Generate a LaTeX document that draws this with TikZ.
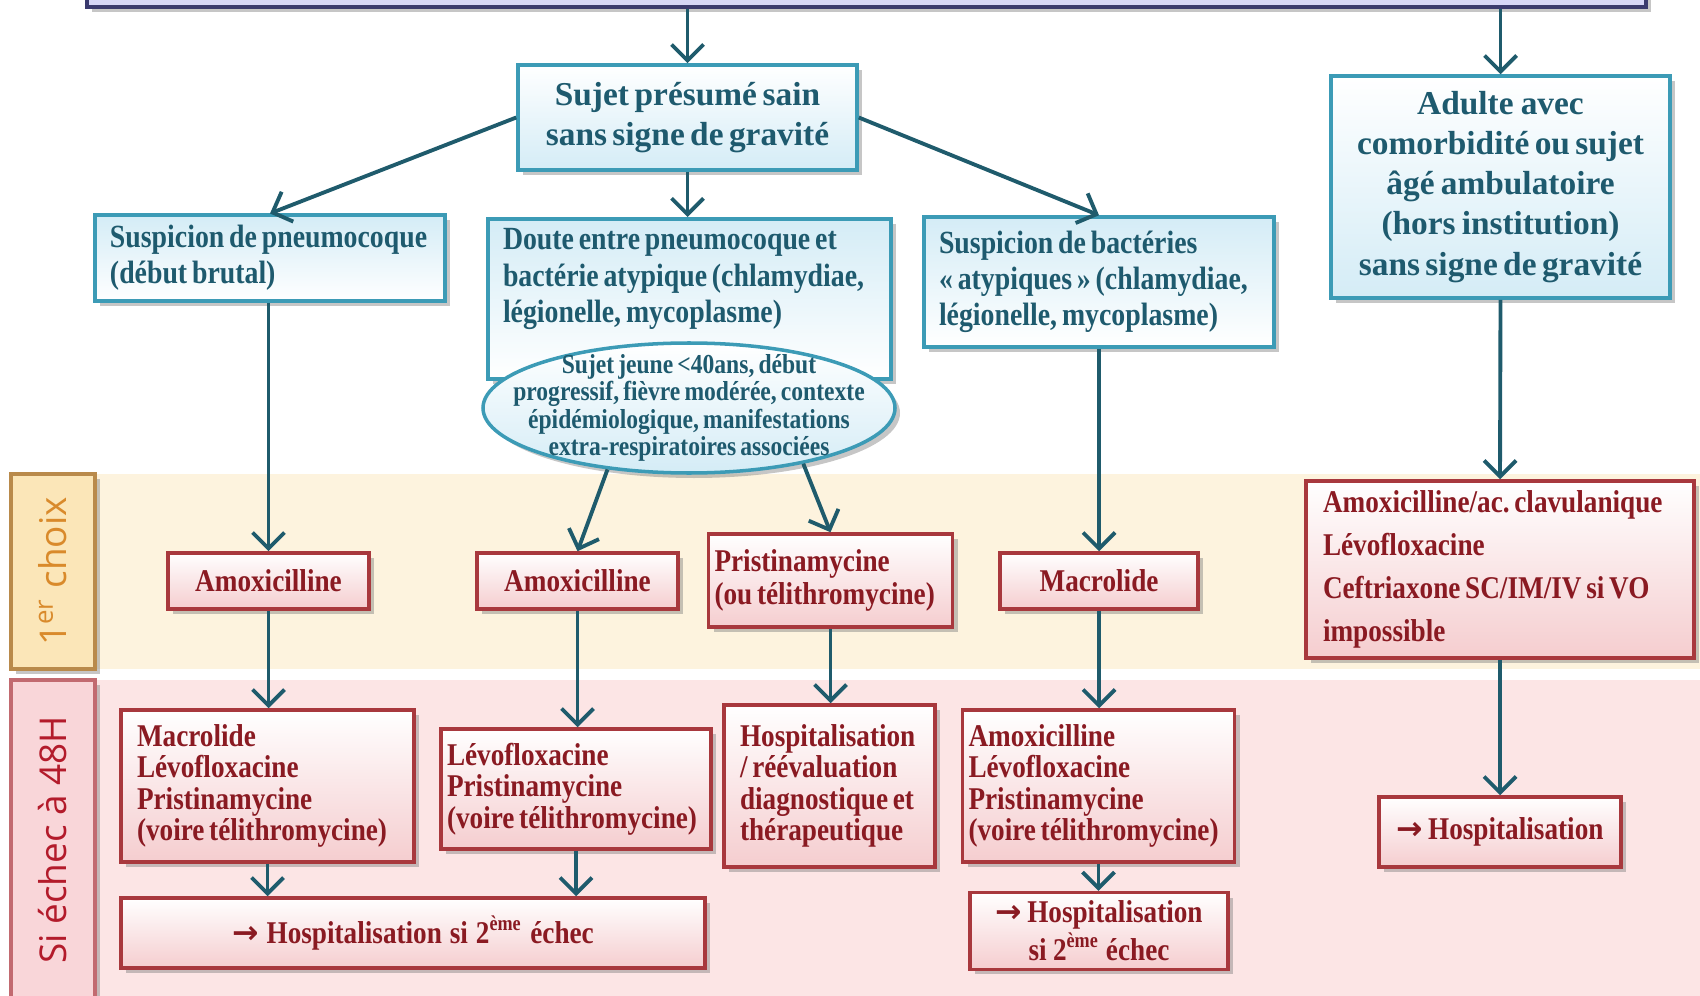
\documentclass[tikz,border=0pt]{standalone}
\usepackage{fontspec}
\usepackage{xcolor}
\usepackage{tikz}
\usetikzlibrary{arrows.meta,shapes.geometric,shadows}

\setmainfont{Liberation Serif}[FakeStretch=0.86]
\newfontfamily\largo{Liberation Serif}
\newfontfamily\fasciafont{Open Sans}
\newfontfamily\frecciafont{DejaVu Sans}
\newcommand{\fr}{{\frecciafont\bfseries →}}
\newcommand{\spaziatura}{\spaceskip=0.15em plus 0.06em minus 0.03em\xspaceskip=\spaceskip}

\begin{document}
\begin{tikzpicture}[
  ombra/.style={drop shadow={opacity=0.45,shadow xshift=0.05cm,shadow yshift=-0.05cm}},
  blu/.style={draw=bordoBlu, line width=1pt, top color=fondoBlu, bottom color=white,
    text=testoBlu, inner xsep=0.15cm, inner ysep=0.1cm, ombra,
    font=\fontsize{9.2}{10.3}\selectfont\bfseries, execute at begin node=\spaziatura},
  capo/.style={blu, top color=white, bottom color=fondoBlu, align=center,
    font=\largo\fontsize{9.5}{11.4}\selectfont\bfseries},
  rosso/.style={draw=bordoRosso, line width=1pt, top color=white, bottom color=fondoRosso,
    text=testoRosso, inner xsep=0.06cm, inner ysep=0.08cm, ombra,
    font=\fontsize{9}{8.9}\selectfont\bfseries, execute at begin node=\spaziatura},
  fascia/.style={rotate=90, line width=1pt, ombra, inner sep=0pt,
    font=\fasciafont\fontsize{10.5}{13}\selectfont},
  freccia/.style={-{Straight Barb[length=1.6mm,width=3.2mm]}, line width=1.1pt, draw=coloreFreccia}
]

% Colori
\definecolor{bordoBlu}{HTML}{3C9BB6}
\definecolor{testoBlu}{HTML}{1E5A6E}
\definecolor{fondoBlu}{HTML}{D4ECF6}
\definecolor{coloreFreccia}{HTML}{1F5B6C}
\definecolor{bordoRosso}{HTML}{A8383D}
\definecolor{testoRosso}{HTML}{8A1A22}
\definecolor{fondoRosso}{HTML}{F5CDCF}
\definecolor{fasciaGialla}{HTML}{FDF3DE}
\definecolor{fasciaRosa}{HTML}{FCE5E5}
\definecolor{bordoGiallo}{HTML}{B98A4B}
\definecolor{fondoGiallo}{HTML}{FBE6B8}
\definecolor{testoGiallo}{HTML}{D98A2B}
\definecolor{bordoRosa}{HTML}{C26A70}
\definecolor{fondoRosa}{HTML}{F9D6D9}
\definecolor{testoRosa}{HTML}{B31B2B}
\definecolor{bordoTitolo}{HTML}{3A3A6E}
\definecolor{fondoTitolo}{HTML}{D6D6F7}

\useasboundingbox (0,0) rectangle (17,-9.96);
\clip (0,0) rectangle (17,-9.96);

% Fasce
\fill[fasciaGialla] (0.95,-4.74) rectangle (17,-6.69);
\fill[fasciaRosa] (0.95,-6.80) rectangle (17,-9.96);
\node[fascia, draw=bordoGiallo, fill=fondoGiallo, text=testoGiallo,
  minimum width=1.95cm, minimum height=0.84cm] (scelta) at (0.53,-5.715) {1\textsuperscript{er} choix};
\node[fascia, draw=bordoRosa, fill=fondoRosa, text=testoRosa,
  minimum width=3.2cm, minimum height=0.84cm] (echec) at (0.53,-8.40) {Si échec à 48H};

% Titolo (tagliato)
\node[draw=bordoTitolo, fill=fondoTitolo, line width=1.2pt, ombra,
  minimum width=15.59cm, minimum height=1cm, anchor=south] (titolo) at (8.665,-0.09) {};

% Situazioni
\node[capo, text width=3.09cm, minimum height=1.05cm] (sujet) at (6.875,-1.175)
  {Sujet présumé sain\\sans signe de gravité};
\node[capo, text width=3.09cm, minimum height=2.22cm] (adulte) at (15.005,-1.87)
  {Adulte avec\\comorbidité ou sujet\\âgé ambulatoire\\(hors institution)\\sans signe de gravité};
\node[blu, align=left, text width=3.20cm, minimum height=0.82cm] (pneumo) at (2.70,-2.58)
  {Suspicion de pneumocoque\\(début brutal)};
\node[blu, align=left, text width=3.73cm, text depth=1.19cm, anchor=north] (doute) at (6.895,-2.17)
  {Doute entre pneumocoque et\\bactérie atypique (chlamydiae,\\légionelle, mycoplasme)};
\node[blu, align=left, text width=3.20cm, minimum height=1.30cm] (bact) at (10.99,-2.82)
  {Suspicion de bactéries\\«~atypiques~» (chlamydiae,\\légionelle, mycoplasme)};
\node[ellipse, draw=bordoBlu, line width=1pt, top color=white, bottom color=fondoBlu, ombra,
  minimum width=4.12cm, minimum height=1.30cm] (ell) at (6.89,-4.08) {};
\node[text=testoBlu, align=center, inner sep=0pt, font=\fontsize{7.8}{7.8}\selectfont\bfseries,
  execute at begin node=\spaziatura]
  (ellTesto) at (ell) {Sujet jeune <40ans, début\\progressif, fièvre modérée, contexte\\épidémiologique, manifestations\\extra-respiratoires associées};

% 1er choix
\node[rosso, align=center, text width=1.89cm, minimum height=0.56cm] (amox1) at (2.685,-5.81) {Amoxicilline};
\node[rosso, align=center, text width=1.89cm, minimum height=0.56cm] (amox2) at (5.775,-5.81) {Amoxicilline};
\node[rosso, align=left, text width=2.32cm, minimum height=0.93cm, font=\fontsize{9}{9.2}\selectfont\bfseries]
  (pristi) at (8.305,-5.805) {Pristinamycine\\(ou télithromycine)};
\node[rosso, align=center, text width=1.86cm, minimum height=0.56cm] (macro) at (10.99,-5.81) {Macrolide};
\node[rosso, align=left, inner xsep=0.17cm, text width=3.54cm, minimum height=1.77cm,
  font=\fontsize{9}{12.3}\selectfont\bfseries]
  (amoxclav) at (15.0,-5.695) {Amoxicilline/ac. clavulanique\\Lévofloxacine\\Ceftriaxone SC/IM/IV si VO\\impossible};

% Si echec a 48H
\node[rosso, align=left, inner xsep=0.16cm, text width=2.61cm, minimum height=1.52cm] (echec1) at (2.675,-7.86)
  {Macrolide\\Lévofloxacine\\Pristinamycine\\(voire télithromycine)};
\node[rosso, align=left, text width=2.58cm, minimum height=1.20cm] (echec2) at (5.76,-7.89)
  {Lévofloxacine\\Pristinamycine\\(voire télithromycine)};
\node[rosso, align=left, inner xsep=0.16cm, text width=1.79cm, minimum height=1.62cm] (echec3) at (8.295,-7.86)
  {Hospitalisation\\/ réévaluation\\diagnostique et\\thérapeutique};
\node[rosso, align=left, text width=2.6cm, minimum height=1.52cm] (echec4) at (10.985,-7.86)
  {Amoxicilline\\Lévofloxacine\\Pristinamycine\\(voire télithromycine)};
\node[rosso, align=center, text width=2.30cm, minimum height=0.70cm] (hospit) at (15.0,-8.32)
  {\fr{} Hospitalisation};
\node[rosso, align=center, text width=5.72cm, minimum height=0.70cm] (hosp12) at (4.13,-9.33)
  {\fr{} Hospitalisation si 2\textsuperscript{ème} échec};
\node[rosso, align=center, text width=2.46cm, minimum height=0.74cm] (hosp4) at (10.99,-9.31)
  {\fr{} Hospitalisation\\si 2\textsuperscript{ème} échec};

% Frecce
\draw[freccia] (titolo.south -| sujet.north) -- (sujet.north);
\draw[freccia] (titolo.south -| adulte.north) -- (adulte.north);
\draw[freccia] (sujet.west) -- (pneumo.north);
\draw[freccia] (sujet.south) -- (sujet.south |- doute.north);
\draw[freccia] (sujet.east) -- (bact.north);
\draw[freccia] (amox1.north |- pneumo.south) -- (amox1.north);
\draw[freccia] (ell.-143) -- (amox2.north);
\draw[freccia] (ell.-26) -- (pristi.north);
\draw[freccia] (macro.north |- bact.south) -- (macro.north);
\draw[freccia] (adulte.south) -- (amoxclav.north);
\draw[freccia] (amox1.south) -- (amox1.south |- echec1.north);
\draw[freccia] (amox2.south) -- (amox2.south |- echec2.north);
\draw[freccia] (pristi.south) -- (pristi.south |- echec3.north);
\draw[freccia] (macro.south) -- (macro.south |- echec4.north);
\draw[freccia] (amoxclav.south) -- (amoxclav.south |- hospit.north);
\draw[freccia] (echec1.south) -- (echec1.south |- hosp12.north);
\draw[freccia] (echec2.south) -- (echec2.south |- hosp12.north);
\draw[freccia] (echec4.south) -- (echec4.south |- hosp4.north);

\end{tikzpicture}
\end{document}
